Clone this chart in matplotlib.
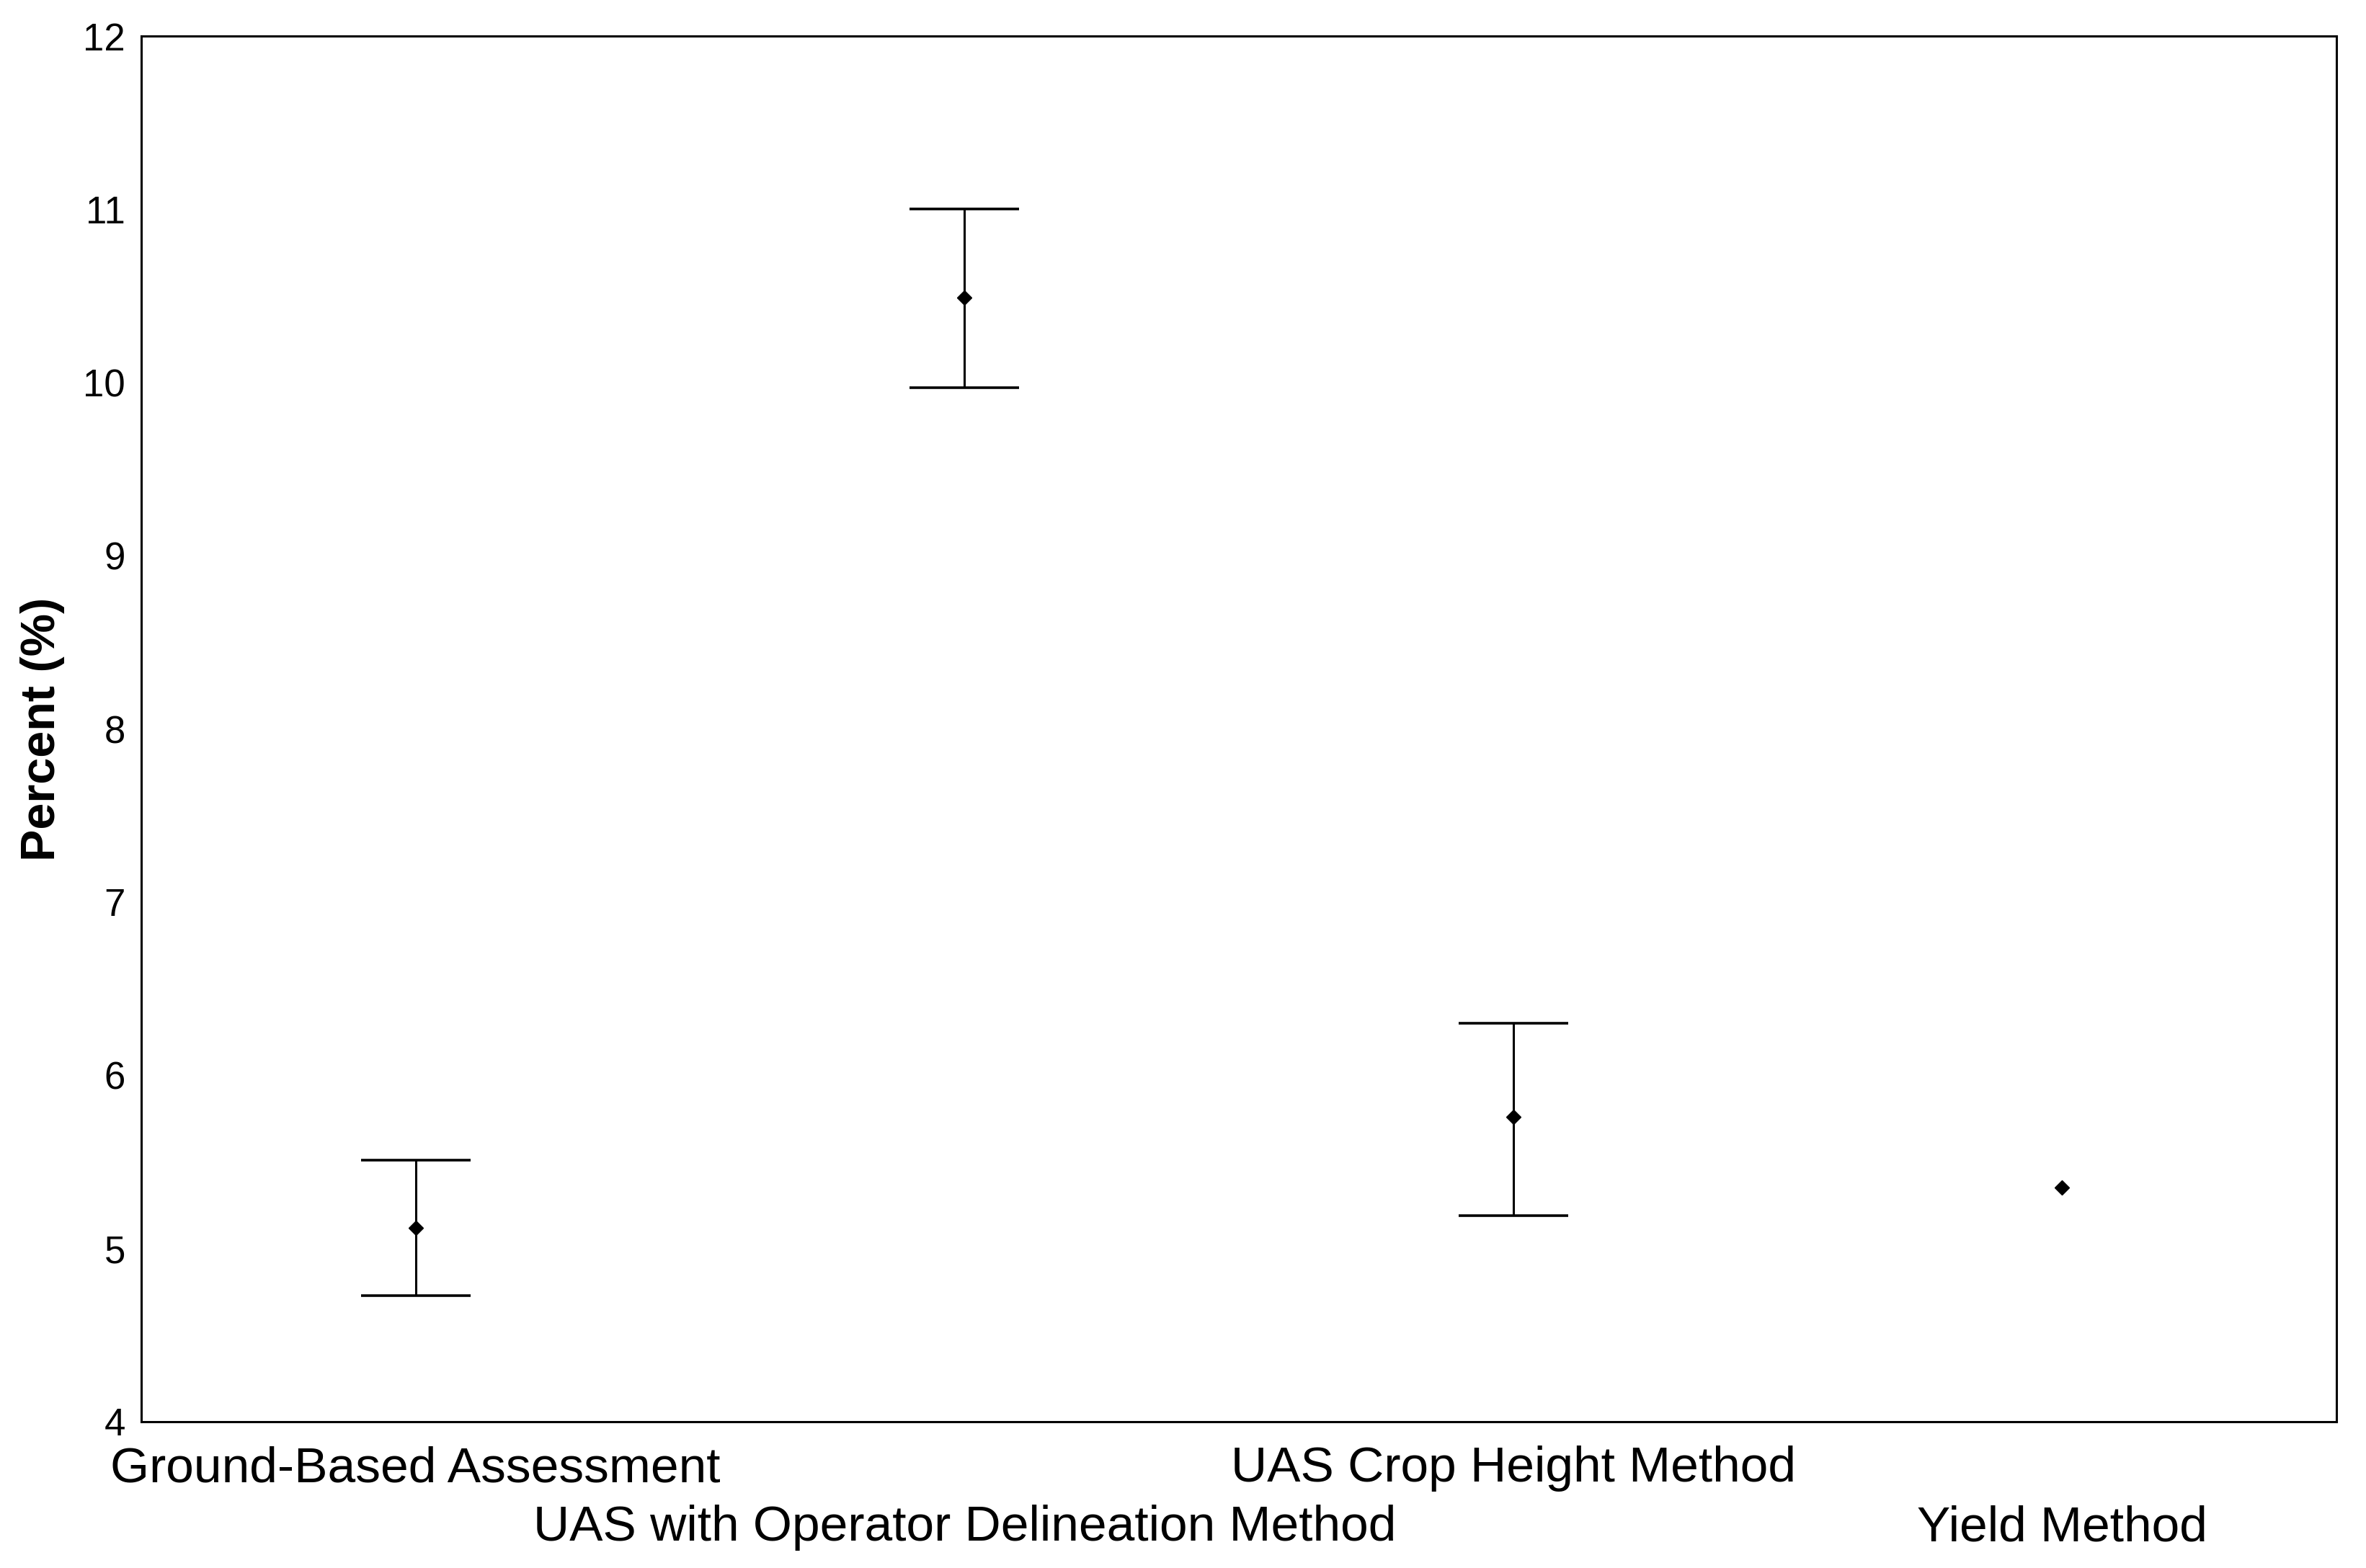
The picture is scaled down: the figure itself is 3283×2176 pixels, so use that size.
import numpy as np
import matplotlib
matplotlib.use("Agg")
import matplotlib.pyplot as plt

plt.rcParams['font.family'] = ['Liberation Sans', 'DejaVu Sans']

# data
methods = ["Ground-Based Assessment",
           "UAS with Operator Delineation Method",
           "UAS Crop Height Method",
           "Yield Method"]
means = [5.12, 10.49, 5.76, 5.35]
upper = [5.51, 11.00, 6.30, np.nan]
lower = [4.73, 9.97, 5.19, np.nan]
yticks = [4, 5, 6, 7, 8, 9, 10, 11, 12]

x = np.arange(len(methods))
means = np.array(means)
upper = np.array(upper)
lower = np.array(lower)

fig = plt.figure(figsize=(32.83, 21.76), dpi=100)
ax = fig.add_axes([0.0597, 0.0933, 0.9278, 0.8837])

has_err = ~np.isnan(upper)
yerr = np.vstack([means[has_err] - lower[has_err], upper[has_err] - means[has_err]])
ax.errorbar(x[has_err], means[has_err], yerr=yerr, fmt='none', ecolor='black',
            elinewidth=2.2, capsize=55, capthick=2.6)
ax.plot(x, means, linestyle='none', marker='D', markersize=10.5,
        color='black', zorder=3)

ax.set_xlim(-0.5, len(methods) - 0.5)
ax.set_ylim(4, 12)
ax.set_yticks(yticks)
ax.set_yticklabels([str(t) for t in yticks], fontsize=38)

# staggered category labels: even ones on the major ticks, odd ones on minor ticks one row lower
ax.set_xticks(x[::2])
ax.set_xticklabels(methods[::2], fontsize=50)
ax.set_xticks(x[1::2], minor=True)
ax.set_xticklabels(methods[1::2], minor=True, fontsize=50)
ax.tick_params(axis='both', which='both', length=0)
ax.tick_params(axis='y', pad=16)
ax.tick_params(axis='x', which='major', pad=24)
ax.tick_params(axis='x', which='minor', pad=83)

ax.set_ylabel("Percent (%)", fontsize=48, fontweight='bold', labelpad=18)

for sp in ax.spines.values():
    sp.set_linewidth(2.2)
    sp.set_color('black')

fig.savefig("out.png", dpi=100)
